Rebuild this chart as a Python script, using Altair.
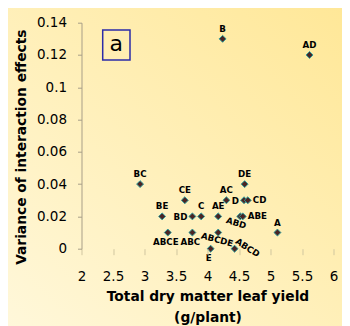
import altair as alt
import pandas as pd

# ---- data ----
labels = ["B", "AD", "BC", "DE", "CE", "AC", "D", "CD", "BE", "BD",
          "C", "AE", "ABD", "ABE", "ABCE", "ABC", "ABCDE", "A", "E", "ABCD"]
yield_g = [4.24, 5.62, 2.93, 4.59, 3.64, 4.30, 4.58, 4.64, 3.28, 3.76,
           3.90, 4.17, 4.52, 4.56, 3.37, 3.76, 4.17, 5.11, 4.05, 4.43]
variance = [0.13, 0.12, 0.04, 0.04, 0.03, 0.03, 0.03, 0.03, 0.02, 0.02,
            0.02, 0.02, 0.02, 0.02, 0.01, 0.01, 0.01, 0.01, 0.0, 0.0]
placement = ["above", "above", "above", "above", "above", "above", "left", "right", "above", "left",
             "above", "above", "rot1", "right", "below", "below", "rot2", "above", "below", "rot3"]

x_ticks = [2, 2.5, 3, 3.5, 4, 4.5, 5, 5.5, 6]
y_ticks = [0, 0.02, 0.04, 0.06, 0.08, 0.1, 0.12, 0.14]

df = pd.DataFrame({"label": labels, "x": yield_g, "y": variance, "pos": placement})

W, H = 252, 226
FONT = "DejaVu Sans"

xscale = alt.Scale(domain=[2, 6], nice=False)
yscale = alt.Scale(domain=[0, 0.14], nice=False)

xaxis = alt.Axis(
    values=x_ticks, format="~g", domain=False, grid=False, zindex=1,
    labelOverlap=False, labelBound=False, labelFlush=False,
    tickColor="#D0C6A0", tickSize=6, tickWidth=1,
    labelFont=FONT, labelFontSize=13.5, labelColor="black", labelPadding=15,
    title=["Total dry matter leaf yield", "(g/plant)"],
    titleFont=FONT, titleFontSize=13.8, titleFontWeight="bold", titleColor="black",
    titleLineHeight=21, titleBaseline="middle", titleAlign="center",
    titleX=W / 2, titleY=47.5,
)
yaxis = alt.Axis(
    values=y_ticks, format="~g", grid=False, zindex=1,
    labelOverlap=False, labelBound=False, labelFlush=False,
    domainColor="#A89F88", domainWidth=1,
    tickColor="#A89F88", tickSize=4, tickWidth=1,
    labelFont=FONT, labelFontSize=13.5, labelColor="black", labelPadding=11,
    title="Variance of interaction effects",
    titleFont=FONT, titleFontSize=13.8, titleFontWeight="bold", titleColor="black",
    titleBaseline="middle", titleAlign="center", titleAngle=270,
    titleX=-60, titleY=124,
)

one = alt.Data(values=[{}])

bg = alt.Chart(one).mark_rect(
    fill=alt.LinearGradient(
        gradient="linear",
        stops=[alt.GradientStop(color="#FFF8DC", offset=0),
               alt.GradientStop(color="#FFE796", offset=1)],
        x1=0, y1=1, x2=1, y2=0,
    )
).encode(x=alt.value(-80), x2=alt.value(W + 20), y=alt.value(-20), y2=alt.value(H + 90))

base = alt.Chart(df)
X = alt.X("x:Q", scale=xscale, axis=xaxis)
Y = alt.Y("y:Q", scale=yscale, axis=yaxis)

points = base.mark_point(
    shape="diamond", filled=True, size=48, fill="#4A2424",
    stroke="#2E9C9C", strokeWidth=1, opacity=1,
).encode(x=X, y=Y)


def lbl(pos, **kw):
    return base.transform_filter(alt.datum.pos == pos).mark_text(
        font=FONT, fontSize=8.7, fontWeight="bold", color="black", **kw
    ).encode(x=X, y=Y, text="label:N")


t_above = lbl("above", align="center", baseline="bottom", dy=-5)
t_below = lbl("below", align="center", baseline="top", dy=5, dx=-2)
t_left = lbl("left", align="right", baseline="middle", dx=-5, dy=1)
t_right = lbl("right", align="left", baseline="middle", dx=5)
t_r1 = lbl("rot1", align="center", baseline="middle", angle=17, xOffset=-4, yOffset=6.5)
t_r2 = lbl("rot2", align="center", baseline="middle", angle=15, xOffset=-1, yOffset=7)
t_r3 = lbl("rot3", align="center", baseline="middle", angle=33, xOffset=13, yOffset=-1)

box = alt.Chart(one).mark_rect(
    filled=False, stroke="#2B2BA8", strokeWidth=1.5
).encode(x=alt.value(21.2), x2=alt.value(48.5), y=alt.value(7.3), y2=alt.value(37.3))
box_txt = alt.Chart(one).mark_text(
    text="a", font=FONT, fontSize=22, color="black", align="center", baseline="middle"
).encode(x=alt.value(34.8), y=alt.value(21.5))

chart = alt.layer(
    bg, points, t_above, t_below, t_left, t_right, t_r1, t_r2, t_r3, box, box_txt
).properties(
    width=W, height=H,
    autosize=alt.AutoSizeParams(type="none"),
    padding={"left": 73.5, "top": 14.7, "right": 8, "bottom": 77},
    background="#FFF2C4",
).configure_view(stroke=None)

chart.save("out.html", embed_options={"renderer": "svg", "actions": False})
